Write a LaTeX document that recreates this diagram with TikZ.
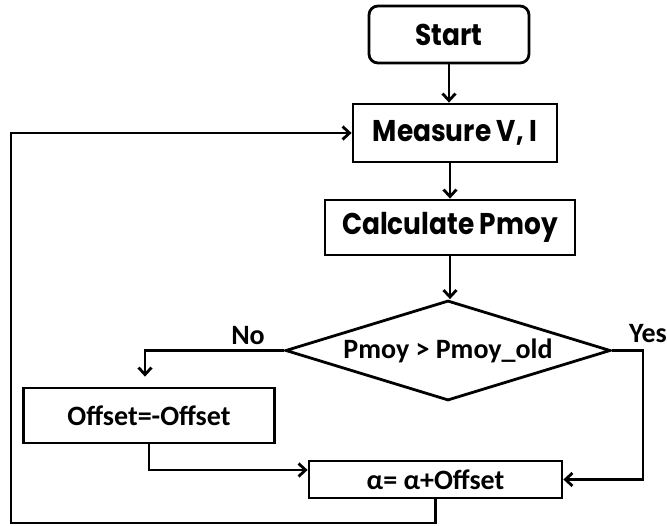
\documentclass[tikz,border=0pt]{standalone}
\usepackage{fontspec}
\setmainfont{Carlito}
\newfontfamily\gothic[FakeStretch=0.88]{Poppins}
\usetikzlibrary{arrows.meta}
\usetikzlibrary{shapes.geometric}

\begin{document}
\begin{tikzpicture}[x=1pt,y=-1pt,
  box/.style={draw, line width=2.8pt, inner sep=0pt},
  arr/.style={-{Straight Barb[length=7pt,width=13pt]}, line width=2.8pt},
  top/.style={font=\gothic\bfseries\fontsize{30}{32}\selectfont},
  bot/.style={font=\bfseries\fontsize{28}{30}\selectfont}]
\useasboundingbox (0,0) rectangle (667,526);
% boxes
\node[box, top, rounded corners=9pt, minimum width=160pt, minimum height=57pt] (start) at (449,34.5) {Start};
\node[box, top, minimum width=204pt, minimum height=58pt] (measure) at (455,133) {Measure V, I};
\node[box, top, minimum width=250pt, minimum height=55pt] (calc) at (450,227.5) {Calculate Pmoy};
\node[box, bot, diamond, aspect=3.25, minimum width=325pt, minimum height=100pt] (test) at (448,350.5) {Pmoy > Pmoy\_old};
\node[box, bot, minimum width=251pt, minimum height=55pt] (offset) at (149,415.5) {Offset=-Offset};
\node[box, bot, minimum width=253pt, minimum height=37pt] (alpha) at (435.5,479.5) {α= α+Offset};
% labels
\node[bot] (no) at (248,336) {No};
\node[bot] (yes) at (648,334) {Yes};
% connectors
\draw[arr] (start.south) -- (start.south |- measure.north);
\draw[arr] (calc.north |- measure.south) -- (calc.north);
\draw[arr] (calc.south) -- (calc.south |- test.north);
\draw[arr] (test.west) -| ([xshift=-4pt,yshift=10pt]offset.north);
\draw[arr] (test.east) -- ++(31,0) |- (alpha.east);
\draw[arr] (offset.south) |- ([yshift=9.5pt]alpha.west);
\coordinate (corner) at (11,523);
\draw[arr] (alpha.south) |- (corner) |- (measure.west);
\end{tikzpicture}
\end{document}
